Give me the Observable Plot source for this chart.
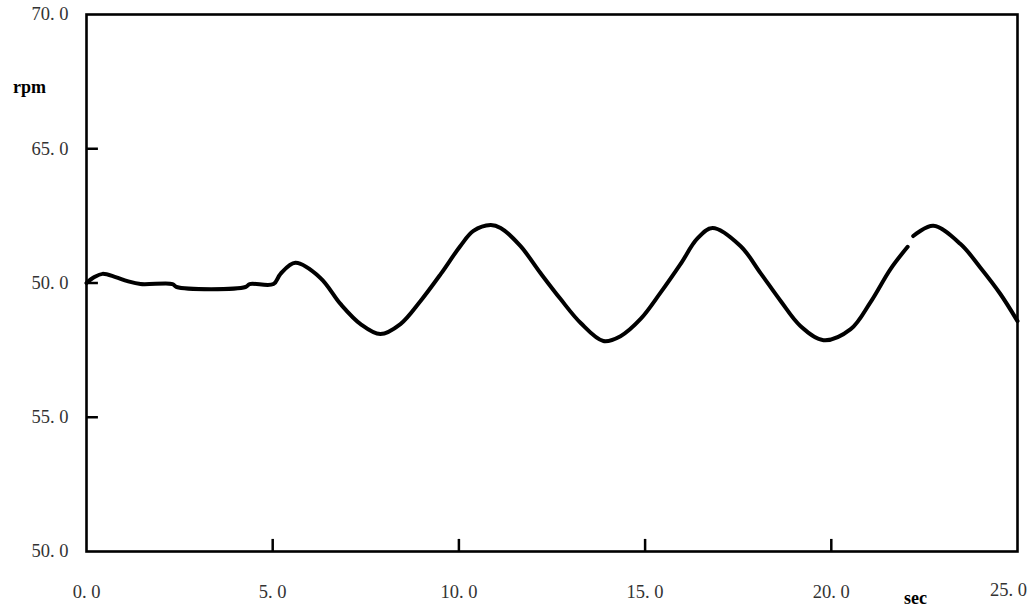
<!DOCTYPE html>
<html>
<head>
<meta charset="utf-8">
<script src="https://cdn.jsdelivr.net/npm/d3@7"></script>
<script src="https://cdn.jsdelivr.net/npm/@observablehq/plot@0.6"></script>
<style>
  html, body { margin: 0; padding: 0; background: #fff; }
  #chart svg { display: block; }
</style>
</head>
<body>
<div id="chart"></div>
<script>
// Time (sec) and speed (rpm)
const timeSec = [0, 0.21, 0.43, 0.78, 1.10, 1.45, 2.31, 2.42, 4.27, 4.38, 5.02, 5.21, 5.61, 6.28, 6.82, 7.36, 7.89, 8.43, 8.97, 9.51, 10.04, 10.39, 10.85, 11.12, 11.65, 12.19, 12.73, 13.27, 13.88, 14.34, 14.88, 15.41, 15.95, 16.40, 16.81, 17.56, 18.10, 18.64, 19.17, 19.79, 20.52, 21.05, 21.59, 22.05, 22.12, 22.20, 22.74, 23.47, 24.01, 24.54, 25.0];
const speedRpm = [60.0, 60.22, 60.34, 60.22, 60.07, 59.96, 59.96, 59.85, 59.85, 59.96, 59.96, 60.34, 60.75, 60.19, 59.22, 58.47, 58.10, 58.47, 59.33, 60.33, 61.38, 61.94, 62.16, 62.05, 61.38, 60.37, 59.40, 58.51, 57.84, 58.02, 58.66, 59.63, 60.70, 61.65, 62.05, 61.38, 60.37, 59.33, 58.40, 57.87, 58.28, 59.28, 60.52, 61.35, NaN, 61.75, 62.13, 61.45, 60.56, 59.59, 58.58];

const xTicks = [0, 5, 10, 15, 20, 25];
const xTickLabels = ["0. 0", "5. 0", "10. 0", "15. 0", "20. 0", "25. 0"];
const xInnerTicks = [5, 10, 15, 20];
const yTicks = [50, 55, 60, 65, 70];
const yTickLabels = ["50. 0", "55. 0", "50. 0", "65. 0", "70. 0"];
const yInnerTicks = [55, 60, 65];

const data = timeSec.map((t, i) => ({t, v: speedRpm[i]}));
const serif = "'Liberation Serif', 'DejaVu Serif', serif";
const xLabel = (d) => xTickLabels[xTicks.indexOf(d)];
const lastX = xTicks[xTicks.length - 1];

const chart = Plot.plot({
  width: 1034,
  height: 614,
  marginLeft: 86,
  marginRight: 17,
  marginTop: 14,
  marginBottom: 63,
  style: {background: "#fff", fontFamily: serif},
  x: {domain: [0, 25]},
  y: {domain: [50, 70]},
  marks: [
    Plot.axisX({ticks: xTicks.slice(0, -1), tickSize: 0, tickPadding: 33, fontSize: 18.5, fill: "#333",
      tickFormat: xLabel, label: null}),
    Plot.axisX({ticks: [lastX], tickSize: 0, tickPadding: 31, fontSize: 18.5, fill: "#333", dx: -9,
      tickFormat: xLabel, label: null}),
    Plot.axisY({ticks: yTicks, tickSize: 0, tickPadding: 18, fontSize: 18.5, fill: "#333",
      tickFormat: (d) => yTickLabels[yTicks.indexOf(d)], label: null}),
    Plot.ruleY(yInnerTicks, {x1: 0, x2: 0.32, stroke: "#000", strokeWidth: 2.5}),
    Plot.ruleX(xInnerTicks, {y1: 50, y2: 50.45, stroke: "#000", strokeWidth: 2.5}),
    Plot.frame({stroke: "#000", strokeWidth: 2.6}),
    Plot.line(data, {x: "t", y: "v", stroke: "#000", strokeWidth: 4, curve: "catmull-rom"}),
    Plot.text(["rpm"], {frameAnchor: "top-left", dx: -57, dy: 66, fontSize: 18, fontWeight: "bold", fill: "#000", textAnchor: "middle"}),
    Plot.text(["sec"], {frameAnchor: "bottom-right", dx: -102, dy: 52, fontSize: 18, fontWeight: "bold", fill: "#000", textAnchor: "middle"})
  ]
});
document.getElementById("chart").appendChild(chart);
</script>
</body>
</html>
